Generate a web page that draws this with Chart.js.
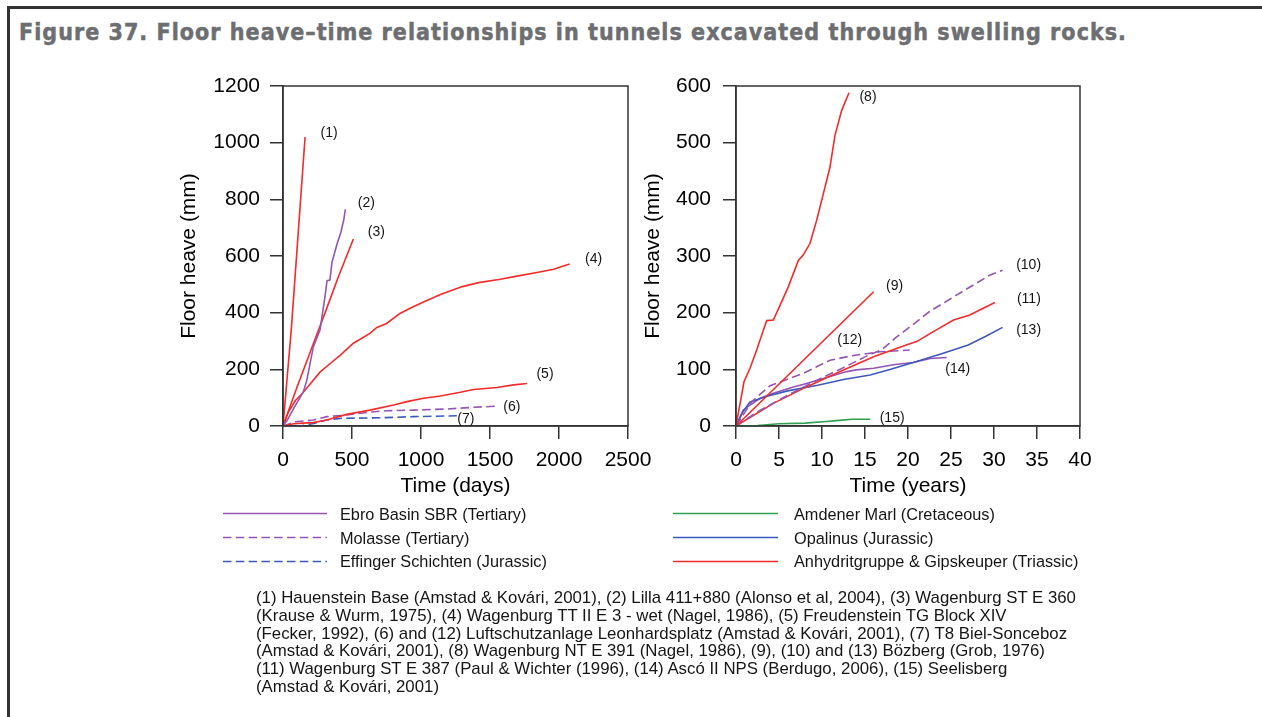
<!DOCTYPE html>
<html><head><meta charset="utf-8">
<script src="https://cdn.jsdelivr.net/npm/chart.js@4.4.1/dist/chart.umd.min.js"></script>
<style>
html,body{margin:0;padding:0;background:#fff;}
body{width:1262px;height:717px;position:relative;overflow:hidden;font-family:"Liberation Sans",Arial,sans-serif;}
#frameTop{position:absolute;left:7px;top:6px;width:1255px;height:2.5px;background:#333;}
#frameLeft{position:absolute;left:7px;top:6px;width:3px;height:711px;background:#333;}
#title{position:absolute;left:19px;font-family:"DejaVu Sans Condensed","DejaVu Sans",sans-serif;font-stretch:condensed;font-weight:bold;font-size:23px;line-height:23px;color:#6d6e71;white-space:nowrap;-webkit-text-stroke:0.5px #6d6e71;}
canvas{position:absolute;}
.txt{position:absolute;white-space:nowrap;color:#151515;display:inline-block;}
#legsvg{position:absolute;left:0;top:0;}
</style>
</head>
<body>
<div id="frameTop"></div><div id="frameLeft"></div>
<div id="title">Figure 37. Floor heave–time relationships in tunnels excavated through swelling rocks.</div>
<canvas id="leftChart" width="488" height="440" style="left:170px;top:70px;width:488px;height:440px"></canvas>
<canvas id="rightChart" width="480" height="440" style="left:630px;top:70px;width:480px;height:440px"></canvas>
<svg id="legsvg" width="1262" height="717"></svg>
<div id="legend"></div>
<div id="notes"></div>
<script>
// ---------- Data: left chart (time in days, heave in mm) ----------
const days1 = [0, 60, 110, 160];
const heave1 = [0, 340, 680, 1020];
const days2 = [0, 30, 87, 147, 172, 220, 268, 304, 319, 340, 355, 390, 420, 440, 452];
const heave2 = [0, 20, 70, 120, 160, 280, 339, 456, 513, 515, 578, 640, 685, 727, 765];
const days3 = [0, 100, 200, 300, 400, 510];
const heave3 = [0, 135, 265, 393, 525, 660];
const days4 = [0, 40, 90, 135, 200, 268, 353, 420, 510, 630, 680, 751, 850, 944, 1050, 1150, 1300, 1418, 1575, 1695, 1840, 1961, 2077];
const heave4 = [0, 50, 90, 112, 150, 190, 225, 252, 292, 327, 348, 362, 398, 421, 445, 466, 492, 506, 518, 529, 542, 553, 572];
const days5 = [0, 77, 145, 220, 316, 461, 630, 802, 898, 1019, 1140, 1285, 1381, 1550, 1671, 1768];
const heave5 = [0, 8, 10, 12, 21, 41, 56, 74, 86, 98, 106, 119, 129, 136, 145, 150];
const days6 = [0, 89, 222, 319, 464, 609, 753, 947, 1188, 1381, 1550];
const heave6 = [0, 15, 21, 33, 39, 48, 54, 56, 60, 66, 70];
const days7 = [0, 126, 222, 319, 413, 705, 947, 1260];
const heave7 = [0, 0, 9, 21, 27, 29, 33, 36];

// ---------- Data: right chart (time in years, heave in mm) ----------
const years8 = [0, 0.93, 1.63, 2.4, 3.57, 4.34, 5.12, 6.09, 7.25, 7.83, 8.6, 9.38, 10.16, 10.93, 11.51, 12.29, 13.14];
const heave8 = [0, 78, 102, 134, 186, 187, 213, 246, 292, 302, 322, 363, 410, 457, 513, 557, 588];
const years9 = [0, 16];
const heave9 = [0, 237];
const years10 = [0, 1, 2.5, 5, 7.5, 10, 12.5, 15, 17, 18.5, 20.5, 22.5, 25, 27.5, 29.5, 31];
const heave10 = [0, 10, 25, 46, 66, 85, 103, 122, 135, 155, 178, 202, 225, 248, 266, 275];
const years11 = [0, 4.34, 8.2, 12.1, 16, 19.8, 21, 22.9, 25.3, 27.2, 28.4, 30.1];
const heave11 = [0, 40, 69, 96, 122, 143, 149, 166, 187, 196, 205, 218];
const years12 = [0, 1.83, 3.95, 7.83, 10.93, 13.5, 16.74, 20.2];
const heave12 = [0, 43, 71, 93, 116, 124, 131, 134];
const years13 = [0, 0.8, 1.6, 3.5, 6, 9.5, 12.5, 15.6, 18, 21, 24, 27, 29, 31];
const heave13 = [0, 25, 42, 52, 62, 72, 82, 90, 100, 114, 128, 143, 158, 174];
const years14 = [0, 0.85, 1.63, 2.8, 4.34, 6.67, 8.2, 10.16, 12.87, 14, 16, 18.3, 20.6, 22.6, 24.5];
const heave14 = [0, 28, 37, 49, 58, 69, 75, 84, 96, 99, 102, 108, 112, 119, 121];
const years15 = [0, 2.5, 5, 8, 10.5, 12, 13.5, 15.6];
const heave15 = [0, 1, 4, 5, 8, 10, 12, 12];

// ---------- Axis ticks ----------
const leftXTicks = [0, 500, 1000, 1500, 2000, 2500];
const leftYTicks = [0, 200, 400, 600, 800, 1000, 1200];
const rightXTicks = [0, 5, 10, 15, 20, 25, 30, 35, 40];
const rightYTicks = [0, 100, 200, 300, 400, 500, 600];

// ---------- Legend & notes text ----------
const legendLeft = ['Ebro Basin SBR (Tertiary)', 'Molasse (Tertiary)', 'Effinger Schichten (Jurassic)'];
const legendRight = ['Amdener Marl (Cretaceous)', 'Opalinus (Jurassic)', 'Anhydritgruppe & Gipskeuper (Triassic)'];
const noteLines = [
  '(1) Hauenstein Base (Amstad & Kovári, 2001), (2) Lilla 411+880 (Alonso et al, 2004), (3) Wagenburg ST E 360',
  '(Krause & Wurm, 1975), (4) Wagenburg TT II E 3 - wet (Nagel, 1986), (5) Freudenstein TG Block XIV',
  '(Fecker, 1992), (6) and (12) Luftschutzanlage Leonhardsplatz (Amstad & Kovári, 2001), (7) T8 Biel-Sonceboz',
  '(Amstad & Kovári, 2001), (8) Wagenburg NT E 391 (Nagel, 1986), (9), (10) and (13) Bözberg (Grob, 1976)',
  '(11) Wagenburg ST E 387 (Paul & Wichter (1996), (14) Ascó II NPS (Berdugo, 2006), (15) Seelisberg',
  '(Amstad & Kovári, 2001)'
];

// ---------- Styles ----------
const RED = '#f52a2a', PURPLE = '#9356b4', BLUE = '#3d59bd', GREEN = '#2f9f52';
const DASH = [8.5, 4.3];
const FONT = {family: '"Liberation Sans", Arial, sans-serif', size: 21};

const leftSeries = [
  {label: '(1)', x: days1, y: heave1, color: RED, dash: [], off: [24, -4]},
  {label: '(2)', x: days2, y: heave2, color: PURPLE, dash: [], off: [21, -6]},
  {label: '(3)', x: days3, y: heave3, color: RED, dash: [], off: [23, -7]},
  {label: '(4)', x: days4, y: heave4, color: RED, dash: [], off: [24, -5]},
  {label: '(5)', x: days5, y: heave5, color: RED, dash: [], off: [18, -9]},
  {label: '(6)', x: days6, y: heave6, color: PURPLE, dash: DASH, off: [15, 1]},
  {label: '(7)', x: days7, y: heave7, color: BLUE, dash: DASH, off: [9, 3]}
];
const rightSeries = [
  {label: '(8)', x: years8, y: heave8, color: RED, dash: [], off: [19, 4]},
  {label: '(9)', x: years9, y: heave9, color: RED, dash: [], off: [21, -6]},
  {label: '(10)', x: years10, y: heave10, color: PURPLE, dash: DASH, off: [26, -5]},
  {label: '(11)', x: years11, y: heave11, color: RED, dash: [], off: [34, -3]},
  {label: '(12)', x: years12, y: heave12, color: PURPLE, dash: DASH, off: [-60, -10]},
  {label: '(13)', x: years13, y: heave13, color: BLUE, dash: [], off: [26, 3]},
  {label: '(14)', x: years14, y: heave14, color: PURPLE, dash: [], off: [11, 12]},
  {label: '(15)', x: years15, y: heave15, color: GREEN, dash: [], off: [22, -1]}
];

const toPts = (xs, ys) => xs.map((x, i) => ({x: x, y: ys[i]}));

const framePlugin = {
  id: 'frameAndLabels',
  afterDatasetsDraw(chart) {
    const {ctx, chartArea: a} = chart;
    ctx.save();
    ctx.strokeStyle = '#333';
    ctx.lineWidth = 1.5;
    ctx.strokeRect(a.left, a.top, a.right - a.left, a.bottom - a.top);
    ctx.font = '14px "Liberation Sans", Arial, sans-serif';
    ctx.fillStyle = '#151515';
    ctx.textAlign = 'center';
    ctx.textBaseline = 'middle';
    chart.data.datasets.forEach((ds, i) => {
      const meta = chart.getDatasetMeta(i);
      const last = meta.data[meta.data.length - 1];
      ctx.fillText(ds.label, last.x + ds.labelOffset[0], last.y + ds.labelOffset[1]);
    });
    ctx.restore();
  }
};

function zeroPad(s) { s.paddingLeft = 0; s.paddingRight = 0; s.paddingTop = 0; s.paddingBottom = 0; }

function makeChart(id, series, xTicks, yTicks, xTitle, yWidth, yTitlePad, yTickPad) {
  return new Chart(document.getElementById(id), {
    type: 'line',
    data: {
      datasets: series.map(s => ({
        label: s.label, data: toPts(s.x, s.y), borderColor: s.color, backgroundColor: s.color,
        borderWidth: 1.6, borderDash: s.dash, pointRadius: 0, tension: 0, fill: false,
        labelOffset: s.off
      }))
    },
    options: {
      responsive: false, animation: false, devicePixelRatio: 1,
      layout: {padding: {top: 16, right: 30, left: 0, bottom: 0}},
      plugins: {legend: {display: false}, tooltip: {enabled: false}},
      scales: {
        x: {
          type: 'linear', min: xTicks[0], max: xTicks[xTicks.length - 1],
          afterBuildTicks(s) { s.ticks = xTicks.map(v => ({value: v})); },
          ticks: {font: FONT, color: '#000', padding: 9, maxRotation: 0, autoSkip: false, callback: v => String(v)},
          grid: {drawOnChartArea: false, tickLength: 13, color: '#333', lineWidth: 1.5},
          border: {color: '#333', width: 1.5},
          title: {display: true, text: xTitle, font: FONT, color: '#000', padding: {top: 0, bottom: 11}},
          afterFit(s) { s.height = 84; zeroPad(s); }
        },
        y: {
          type: 'linear', min: yTicks[0], max: yTicks[yTicks.length - 1],
          afterBuildTicks(s) { s.ticks = yTicks.map(v => ({value: v})); },
          ticks: {font: FONT, color: '#000', padding: yTickPad, autoSkip: false, callback: v => String(v)},
          grid: {drawOnChartArea: false, tickLength: 13, color: '#333', lineWidth: 1.5},
          border: {color: '#333', width: 1.5},
          title: {display: true, text: 'Floor heave (mm)', font: FONT, color: '#000', padding: {top: yTitlePad, bottom: 0}},
          afterFit(s) { s.width = yWidth; zeroPad(s); }
        }
      }
    },
    plugins: [framePlugin]
  });
}

makeChart('leftChart', leftSeries, leftXTicks, leftYTicks, 'Time (days)', 113, 7, 10);
makeChart('rightChart', rightSeries, rightXTicks, rightYTicks, 'Time (years)', 106, 11, 12);

// ---------- Title: fit width with letter spacing ----------
(function () {
  const t = document.getElementById('title');
  const w = t.getBoundingClientRect().width;
  const n = t.textContent.length;
  t.style.letterSpacing = ((1108 - w) / n) + 'px';
  t.style.top = (40.5 - 0.846 * 23) + 'px';
})();

function addText(parent, text, left, baseline, size) {
  const d = document.createElement('div');
  d.className = 'txt';
  d.textContent = text;
  d.style.fontSize = size + 'px';
  d.style.lineHeight = size + 'px';
  d.style.left = left + 'px';
  d.style.top = (baseline - 0.8465 * size) + 'px';
  parent.appendChild(d);
  return d;
}
function measure(text, size) {
  const d = addText(document.body, text, 0, 0, size);
  const w = d.getBoundingClientRect().width;
  d.remove();
  return w;
}

// ---------- Legend ----------
(function () {
  const svg = document.getElementById('legsvg');
  const rows = [513.5, 537.5, 561.5];
  const baselines = [520, 543.5, 567];
  const leftStyles = [[PURPLE, ''], [PURPLE, DASH.join(' ')], [BLUE, DASH.join(' ')]];
  const rightStyles = [[GREEN, ''], [BLUE, ''], [RED, '']];
  const ns = 'http://www.w3.org/2000/svg';
  function line(x1, x2, y, st) {
    const l = document.createElementNS(ns, 'line');
    l.setAttribute('x1', x1); l.setAttribute('x2', x2);
    l.setAttribute('y1', y); l.setAttribute('y2', y);
    l.setAttribute('stroke', st[0]); l.setAttribute('stroke-width', '1.6');
    if (st[1]) l.setAttribute('stroke-dasharray', st[1]);
    svg.appendChild(l);
  }
  const size = 16.3;
  const leg = document.getElementById('legend');
  for (let i = 0; i < 3; i++) {
    line(223, 327, rows[i], leftStyles[i]);
    line(673, 778, rows[i], rightStyles[i]);
    addText(leg, legendLeft[i], 340, baselines[i], size);
    addText(leg, legendRight[i], 794, baselines[i], size);
  }
})();

// ---------- Notes ----------
(function () {
  const size = 15 * 821 / measure(noteLines[0], 15);
  const notes = document.getElementById('notes');
  noteLines.forEach((s, i) => addText(notes, s, 256, 604.3 + 17.8 * i, size));
})();
</script>
</body></html>
